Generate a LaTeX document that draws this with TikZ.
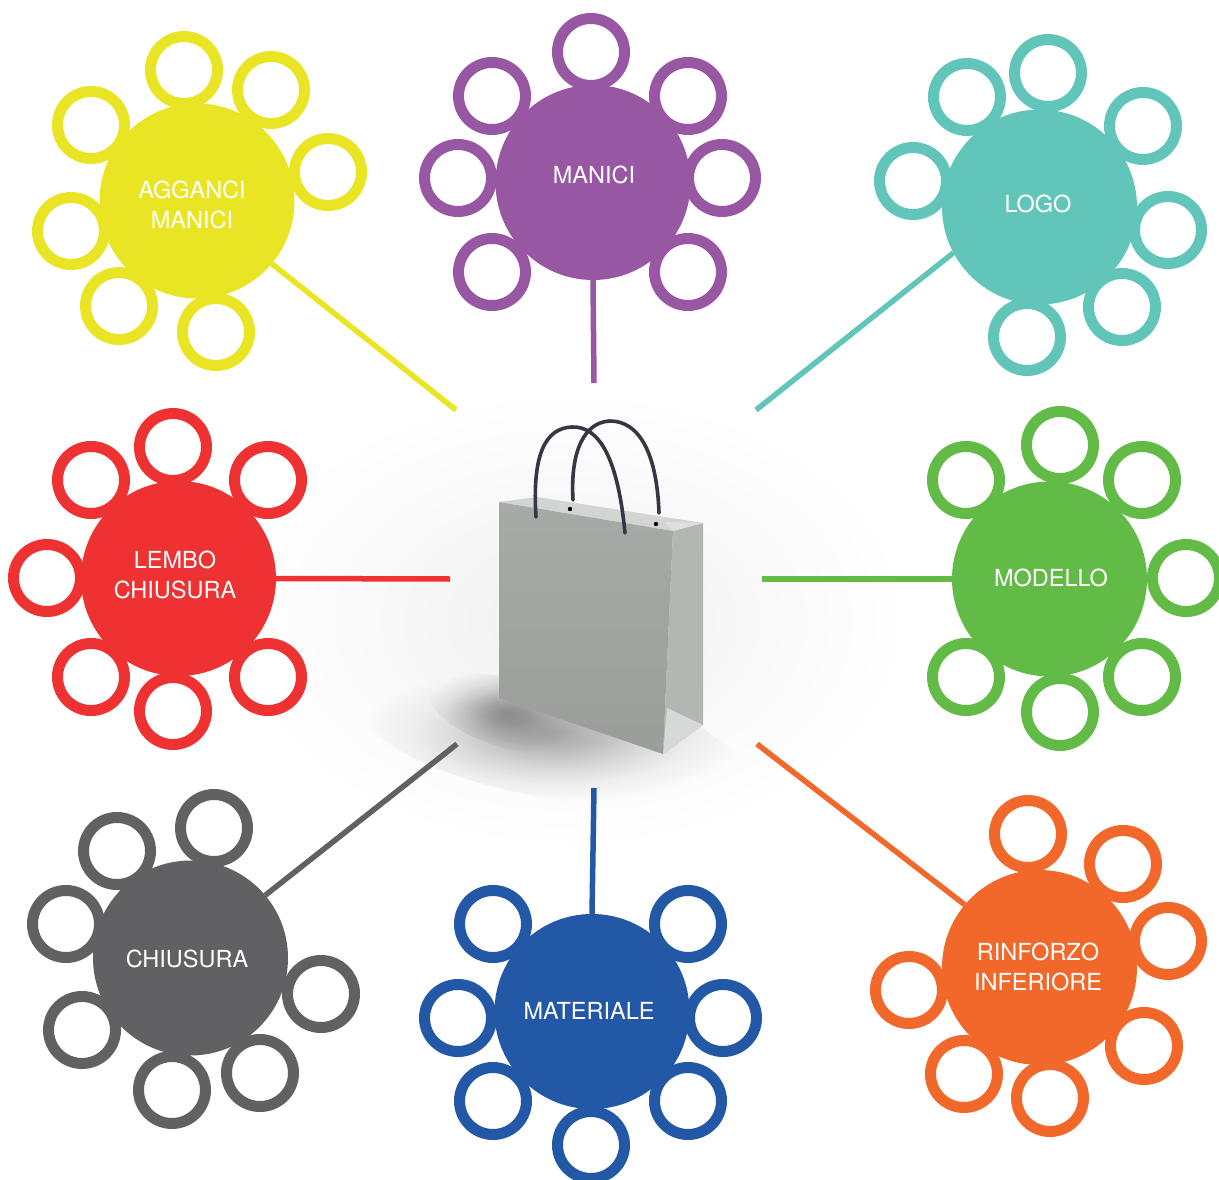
\documentclass[tikz,border=0pt]{standalone}
\usepackage{fontspec}
\setmainfont{TeX Gyre Heros}
\definecolor{cYel}{HTML}{E9E524}
\definecolor{cPur}{HTML}{9857A3}
\definecolor{cTea}{HTML}{62C5BA}
\definecolor{cRed}{HTML}{EE3131}
\definecolor{cGre}{HTML}{62BB47}
\definecolor{cGry}{HTML}{616163}
\definecolor{cBlu}{HTML}{2358A6}
\definecolor{cOra}{HTML}{F2682A}
\definecolor{rope}{HTML}{353842}
\definecolor{bagBack}{HTML}{D2D5D3}
\definecolor{bagSide}{HTML}{B3B6B3}
\definecolor{bagFloor}{HTML}{D6D9D7}
\definecolor{bagFold}{HTML}{DDE0DE}
\definecolor{bagTop}{HTML}{A7AAA7}
\definecolor{bagBot}{HTML}{9A9D9A}
% soft radial falloff towards white
\pgfdeclareradialshading{softdark}{\pgfpoint{0bp}{0bp}}{%
  color(0bp)=(black!32); color(6bp)=(black!24); color(12bp)=(black!13);
  color(18bp)=(black!5); color(25bp)=(white); color(50bp)=(white)}
\pgfdeclareradialshading{softhaze}{\pgfpoint{0bp}{0bp}}{%
  color(0bp)=(black!6); color(12bp)=(black!3); color(25bp)=(white); color(50bp)=(white)}
\begin{document}
\begin{tikzpicture}[x=1pt,y=-1pt,
  hub/.style={circle, fill=#1, inner sep=0pt, outer sep=0pt, minimum size=195pt},
  ring/.style={draw=#1, fill=white, line width=11pt},
  spoke/.style={draw=#1, line width=5.5pt},
  lbl/.style={text=white, font=\fontsize{23.5}{30}\selectfont, align=center, inner sep=0pt},
  handle/.style={draw=rope, line width=3.6pt, line cap=round},
]
\useasboundingbox (0,0) rectangle (1219,1180);
\fill[white] (0,0) rectangle (1219,1180);

% soft shadow around the bag
\begin{scope}[blend mode=multiply]
\shade[shading=softhaze] (570,620) ellipse [x radius=340pt, y radius=230pt];
\shade[shading=softdark, rotate around={-10:(552,740)}] (552,740) ellipse [x radius=190pt, y radius=58pt];
\shade[shading=softdark, rotate around={-18:(505,713)}] (505,713) ellipse [x radius=80pt, y radius=34pt];
\end{scope}

% the bag
\fill[bagBack] (499,502) -- (537,497) -- (703,523) -- (673,531) -- cycle;
\draw[handle] (573,500) .. controls (570,450) and (585,422) .. (610,421) .. controls (640,421) and (657,455) .. (659,513);
\fill[black] (570,509) circle[radius=2.2pt];
\fill[black] (656,524) circle[radius=2.2pt];
\fill[bagSide] (673,531) -- (703,523) -- (703,725) -- (663,754) -- cycle;
\fill[bagFloor] (667,708) -- (703,725) -- (663,754) -- cycle;
\fill[bagFold] (664,522) -- (703,523) -- (673,531) -- cycle;
\shade[top color=bagTop, bottom color=bagBot] (499,502) -- (673,531) -- (663,754) -- (499,698) -- cycle;
\draw[handle] (536,517) .. controls (532,455) and (545,428) .. (572,427) .. controls (600,426) and (618,460) .. (625,533);

% connectors
\coordinate (yel-end) at (456,410);
\coordinate (pur-end) at (594,383);
\coordinate (tea-end) at (756,410);
\coordinate (red-end) at (450,579);
\coordinate (gre-end) at (762,579);
\coordinate (gry-end) at (457,744);
\coordinate (blu-end) at (594,788);
\coordinate (ora-end) at (757,744);

% hubs
\node[hub=cYel] (yel) at (197,201) {};
\node[hub=cPur] (pur) at (593,182.5) {};
\node[hub=cTea] (tea) at (1039.5,207) {};
\node[hub=cRed] (red) at (178.5,578.5) {};
\node[hub=cGre] (gre) at (1049.5,579) {};
\node[hub=cGry] (gry) at (190.5,958) {};
\node[hub=cBlu] (blu) at (592,1011.5) {};
\node[hub=cOra] (ora) at (1039.5,967.5) {};

\draw[spoke=cYel] (yel.320.8) -- (yel-end);
\draw[spoke=cPur] (pur.south) -- (pur-end);
\draw[spoke=cTea] (tea.208) -- (tea-end);
\draw[spoke=cRed] (red.east) -- (red-end);
\draw[spoke=cGre] (gre.west) -- (gre-end);
\draw[spoke=cGry] (gry.40) -- (gry-end);
\draw[spoke=cBlu] (blu.north) -- (blu-end);
\draw[spoke=cOra] (ora.140) -- (ora-end);

% rings round each hub
\foreach \x/\y in {184/70, 271/90, 328/172, 91/125, 71/231, 119/306, 216/332}
  \draw[ring=cYel] (\x,\y) circle[radius=33.5pt];
\foreach \x/\y in {591/52, 492/96, 688/96, 458/178, 722/178, 492/272, 688/272}
  \draw[ring=cPur] (\x,\y) circle[radius=33.5pt];
\foreach \x/\y in {1048/73, 967/97, 1143/126, 913/181, 1168/230, 1122/307, 1027/337}
  \draw[ring=cTea] (\x,\y) circle[radius=33.5pt];
\foreach \x/\y in {173/447, 91/480, 268/480, 47/578, 91/677, 268/677, 173/711}
  \draw[ring=cRed] (\x,\y) circle[radius=33.5pt];
\foreach \x/\y in {1060/445, 966/480, 1142/480, 1186/578, 966/677, 1142/677, 1060/712}
  \draw[ring=cGre] (\x,\y) circle[radius=33.5pt];
\foreach \x/\y in {214/828, 117/851, 66/924, 321/994, 82/1030, 260/1073, 172/1090}
  \draw[ring=cGry] (\x,\y) circle[radius=33.5pt];
\foreach \x/\y in {493/924, 688/924, 458/1018, 723/1018, 493/1101, 688/1101, 591/1145}
  \draw[ring=cBlu] (\x,\y) circle[radius=33.5pt];
\foreach \x/\y in {1028/834, 1123/864, 1168/941, 909/990, 1144/1046, 964/1074, 1050/1098}
  \draw[ring=cOra] (\x,\y) circle[radius=33.5pt];

% labels
\node[lbl] (yel-t) at (192,204.5) {AGGANCI\\MANICI};
\node[lbl] (pur-t) at (594,174.5) {MANICI};
\node[lbl] (tea-t) at (1038,203.5) {LOGO};
\node[lbl] (red-t) at (175,574.5) {LEMBO\\CHIUSURA};
\node[lbl] (gre-t) at (1051,577.5) {MODELLO};
\node[lbl] (gry-t) at (187,958.5) {CHIUSURA};
\node[lbl] (blu-t) at (589,1010.5) {MATERIALE};
\node[lbl] (ora-t) at (1038,966.5) {RINFORZO\\INFERIORE};
\end{tikzpicture}
\end{document}
